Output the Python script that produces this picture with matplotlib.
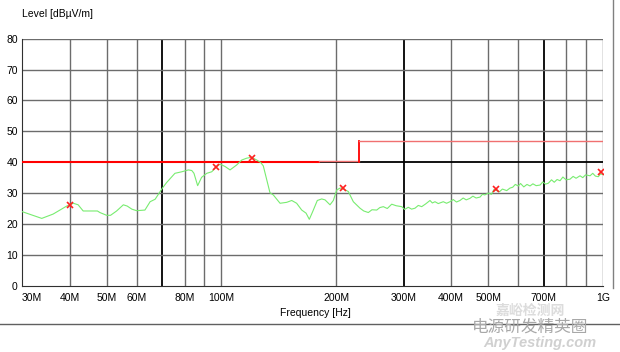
"""EMI radiated emission scan, 30 MHz - 1 GHz
"""

import matplotlib
matplotlib.use('Agg')
import matplotlib.pyplot as plt
from matplotlib.lines import Line2D

freq = [30.0, 33.8, 36.2, 39.3, 40.9, 42.1, 43.4, 47.3, 48.0, 50.0,
        51.2, 53.1, 55.3, 56.6, 58.2, 59.9, 63.0, 65.0, 67.0, 70.0,
        71.8, 75.5, 78.7, 81.9, 83.6, 84.7, 86.6, 88.7, 91.5, 94.3,
        96.2, 99.1, 102.2, 105.3, 109.6, 113.0, 116.4, 120.0, 123.7, 126.7,
        128.7, 131.4, 134.0, 136.7, 142.4, 148.2, 152.8, 157.4, 162.3, 166.6,
        169.9, 173.4, 178.3, 183.1, 186.8, 192.5, 196.4, 200.5, 204.5, 206.6,
        215.0, 221.6, 230.7, 236.0, 242.6, 248.0, 255.2, 260.0, 265.6, 272.0,
        279.4, 287.0, 296.8, 302.0, 308.8, 315.0, 321.5, 328.0, 334.8, 343.0,
        352.0, 357.0, 362.8, 370.0, 381.4, 389.0, 397.1, 405.0, 413.0, 421.8,
        430.0, 438.0, 448.2, 456.0, 465.0, 476.0, 483.0, 490.0, 500.5, 510.0,
        518.0, 526.5, 535.0, 545.0, 559.2, 570.0, 580.0, 589.0, 599.8, 608.0,
        620.0, 632.0, 643.7, 655.0, 668.0, 684.0, 695.0, 707.0, 719.0, 733.0,
        745.0, 758.0, 771.5, 785.0, 800.0, 819.5, 835.0, 850.0, 870.5, 885.0,
        900.0, 924.8, 940.0, 955.0, 972.1, 985.0, 1000.0]
level = [24.0, 21.8, 23.2, 25.8, 26.7, 26.2, 24.2, 24.2, 23.7, 22.8,
         22.8, 24.2, 26.2, 25.8, 24.8, 24.3, 24.5, 27.2, 28.0, 31.6,
         33.4, 36.4, 36.9, 37.5, 37.3, 36.4, 32.4, 35.1, 36.4, 36.9,
         38.1, 39.4, 38.6, 37.5, 39.1, 40.7, 41.3, 41.6, 40.7, 39.9,
         38.8, 34.3, 30.1, 29.4, 26.7, 27.0, 27.6, 26.7, 24.5, 23.5,
         21.5, 24.0, 27.6, 28.1, 27.8, 26.2, 27.6, 31.0, 31.6, 31.6,
         30.5, 27.2, 25.1, 24.2, 23.7, 24.6, 24.5, 25.3, 25.6, 25.0,
         26.4, 25.9, 25.6, 24.7, 25.4, 24.8, 25.1, 26.0, 25.6, 26.5,
         27.6, 26.8, 27.2, 26.6, 27.2, 26.7, 27.2, 27.9, 27.1, 27.6,
         28.4, 27.8, 28.3, 29.0, 28.4, 28.7, 29.6, 29.4, 30.0, 29.6,
         31.2, 30.8, 30.4, 31.3, 30.8, 31.6, 31.9, 32.8, 32.3, 33.1,
         32.0, 32.8, 32.3, 33.0, 32.4, 32.6, 33.6, 32.9, 33.2, 34.3,
         33.5, 34.4, 34.0, 35.2, 34.3, 34.5, 35.4, 34.8, 35.6, 35.0,
         35.9, 35.6, 36.4, 35.5, 35.3, 36.2, 36.0]

# peak markers
peak_freq = [40.0, 96.6, 120.0, 208.0, 524.0, 986.0]
peak_level = [26.2, 38.5, 41.5, 31.6, 31.2, 36.8]

# limit line
limit_lo_freq = [30, 180, 230]
limit_lo = 40
limit_hi_freq = [230, 1000]
limit_hi = 47

xtick_vals = [30, 40, 50, 60, 80, 100, 200, 300, 400, 500, 700, 1000]
xtick_labels = ['30M', '40M', '50M', '60M', '80M', '100M', '200M',
                '300M', '400M', '500M', '700M', '1G']
grid_freqs = [40, 50, 60, 70, 80, 90, 100, 200, 300, 400, 500, 600,
              700, 800, 900, 1000]
dark_freqs = [70, 300, 700]
ytick_vals = [0, 10, 20, 30, 40, 50, 60, 70, 80]

plt.rcParams['font.family'] = ['Liberation Sans', 'DejaVu Sans']

fig = plt.figure(figsize=(6.2, 3.52), dpi=100)
ax = fig.add_axes([22 / 620, 1 - 285.7 / 352, 581 / 620, 247 / 352])
ax.set_xscale('log')
ax.set_xlim(30, 1000)
ax.set_ylim(0, 80)

grey = '#6c6c6c'
for f in grid_freqs:
    if f in dark_freqs:
        ax.axvline(f, color='black', lw=1.3, zorder=1)
    else:
        ax.axvline(f, color=grey, lw=1.0, zorder=1)
for y in ytick_vals[1:]:
    if y == 40:
        ax.axhline(y, color='black', lw=1.3, zorder=1)
    else:
        ax.axhline(y, color=grey, lw=1.0, zorder=1)

# limit
ax.plot(limit_lo_freq[:2], [limit_lo, limit_lo], color='#ff0000', lw=1.5,
        zorder=3)
ax.plot(limit_lo_freq[1:], [limit_lo + 0.4, limit_lo + 0.4],
        color='#f07070', lw=1.0, zorder=3)
ax.plot([limit_hi_freq[0], limit_hi_freq[0]], [limit_lo, limit_hi],
        color='#ff0000', lw=1.3, zorder=3)
ax.plot(limit_hi_freq, [limit_hi, limit_hi], color='#f07070', lw=1.0,
        zorder=3)

# trace
ax.plot(freq, level, color='#78ec70', lw=0.8, zorder=4)
ax.plot(peak_freq, peak_level, 'x', color='#ff2020', ms=5, mew=1.2,
        zorder=5)

for side in ['top', 'right']:
    ax.spines[side].set_visible(False)
ax.spines['left'].set_color('#303030')
ax.spines['bottom'].set_color('#303030')

ax.set_xticks(xtick_vals)
ax.set_xticklabels(xtick_labels)
ax.minorticks_off()
ax.set_yticks(ytick_vals)
ax.tick_params(axis='both', length=0, labelsize=7.5, colors='black')
ax.tick_params(axis='x', pad=5)
ax.tick_params(axis='y', pad=3)
ax.get_xticklabels()[0].set_horizontalalignment('left')

fig.text(22 / 620, 1 - 14 / 352, 'Level [dBµV/m]', fontsize=7.5,
         va='center', ha='left')
fig.text(315 / 620, 1 - 313 / 352, 'Frequency [Hz]', fontsize=7.5,
         va='center', ha='center')

# frame lines around the chart window
fig.add_artist(Line2D([613 / 620, 613 / 620], [1, 1 - 288 / 352],
                      color='#808080', lw=1.0))
fig.add_artist(Line2D([0, 1], [1 - 324 / 352, 1 - 324 / 352],
                      color='#606060', lw=1.0))

# watermark
cjk = ['Noto Sans CJK SC', 'DejaVu Sans']
fig.text(530 / 620, 1 - 311 / 352, '嘉峪检测网', fontsize=10, color='#dcdcdc',
         ha='center', va='center', family=cjk, fontweight='bold')
fig.text(530 / 620, 1 - 327 / 352, '电源研发精英圈', fontsize=12,
         color='#a8a8a8', ha='center', va='center', family=cjk)
fig.text(540 / 620, 1 - 343 / 352, 'AnyTesting.com', fontsize=10.5,
         color='#d0d0d0', ha='center', va='center', style='italic',
         fontweight='bold')

fig.savefig('out.png', dpi=100)
